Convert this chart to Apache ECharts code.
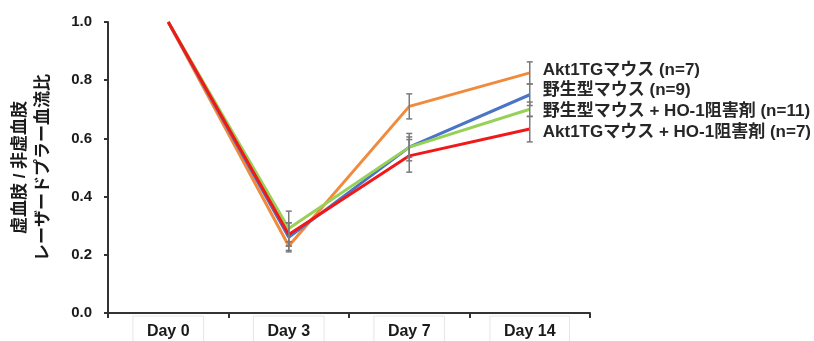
<!DOCTYPE html>
<html>
<head>
<meta charset="utf-8">
<script src="https://cdn.jsdelivr.net/npm/echarts@6/dist/echarts.min.js"></script>
<style>html,body{margin:0;padding:0;background:#fff;}#c{width:814px;height:341px;}</style>
</head>
<body>
<div id="c"></div>
<script>
var categories = ['Day 0', 'Day 3', 'Day 7', 'Day 14'];
var yTicks = [0, 0.2, 0.4, 0.6, 0.8, 1.0];
var names = ['Akt1TGマウス (n=7)', '野生型マウス (n=9)', '野生型マウス + HO-1阻害剤 (n=11)', 'Akt1TGマウス + HO-1阻害剤 (n=7)'];
var akt1 = [1.0, 0.23, 0.71, 0.825];
var wt = [1.0, 0.26, 0.57, 0.75];
var wtHO = [1.0, 0.29, 0.57, 0.70];
var aktHO = [1.0, 0.27, 0.54, 0.632];
var errAkt1 = [0, 0.015, 0.043, 0.038];
var errWt = [0, 0.05, 0.047, 0.037];
var errWtHO = [0, 0.06, 0.035, 0.025];
var errAktHO = [0, 0.04, 0.056, 0.044];

var FONT = "'Liberation Sans', Arial, 'Noto Sans CJK JP', sans-serif";
var colors = ['#F08A3C', '#4A74C8', '#97D157', '#F01818'];
var values = [akt1, wt, wtHO, aktHO];
var errs = [errAkt1, errWt, errWtHO, errAktHO];
var labelDy = [-3, -4, 2, 3];

var chart = echarts.init(document.getElementById('c'), null, {renderer: 'canvas'});
var series = [];
values.forEach(function (vals, i) {
  series.push({
    type: 'line', name: names[i], data: vals, symbol: 'none',
    lineStyle: {color: colors[i], width: 3}, itemStyle: {color: colors[i]},
    z: 2 + i, animation: false,
    endLabel: {
      show: true, formatter: '{a}', distance: 13, offset: [0, labelDy[i]],
      color: '#262626', fontFamily: FONT, fontWeight: 'bold', fontSize: 17
    }
  });
});
values.forEach(function (vals, i) {
  var d = [];
  vals.forEach(function (v, k) {
    if (errs[i][k] > 0) d.push([k, v - errs[i][k], v + errs[i][k]]);
  });
  series.push({
    type: 'custom', name: 'err' + i, data: d, z: 10, animation: false,
    renderItem: function (params, api) {
      var lo = api.coord([api.value(0), api.value(1)]);
      var hi = api.coord([api.value(0), api.value(2)]);
      var w = 3;
      var st = {stroke: '#7a7a7a', lineWidth: 1.5};
      return {type: 'group', children: [
        {type: 'line', shape: {x1: hi[0], y1: hi[1], x2: lo[0], y2: lo[1]}, style: st},
        {type: 'line', shape: {x1: hi[0] - w, y1: hi[1], x2: hi[0] + w, y2: hi[1]}, style: st},
        {type: 'line', shape: {x1: lo[0] - w, y1: lo[1], x2: lo[0] + w, y2: lo[1]}, style: st}
      ]};
    }
  });
});

chart.setOption({
  backgroundColor: '#fff',
  animation: false,
  grid: {left: 108, right: 224, top: 22, bottom: 28, containLabel: false, outerBoundsMode: 'none'},
  xAxis: {
    type: 'category', data: categories, boundaryGap: true,
    axisLine: {lineStyle: {color: '#333', width: 2}},
    axisTick: {show: true, length: 5, lineStyle: {color: '#333', width: 2}},
    axisLabel: {
      margin: 3, color: '#1a1a1a', fontFamily: FONT, fontWeight: 'bold', fontSize: 16,
      borderColor: '#e6e6e6', borderWidth: 1, padding: [8, 14, 12, 14]
    }
  },
  yAxis: {
    type: 'value', min: 0, max: 1, interval: 0.2,
    name: '虚血肢 / 非虚血肢\nレーザードプラー血流比',
    nameLocation: 'middle', nameGap: 53, nameRotate: 90,
    nameTextStyle: {color: '#1a1a1a', fontFamily: FONT, fontWeight: 'bold', fontSize: 17, lineHeight: 23},
    axisLine: {show: true, lineStyle: {color: '#333', width: 2}},
    axisTick: {show: true, length: 4, lineStyle: {color: '#333', width: 2}},
    splitLine: {show: false},
    axisLabel: {
      margin: 16, color: '#1a1a1a', fontFamily: FONT, fontWeight: 'bold', fontSize: 15,
      formatter: function (v) { return v.toFixed(1); }
    }
  },
  series: series
});
</script>
</body>
</html>
